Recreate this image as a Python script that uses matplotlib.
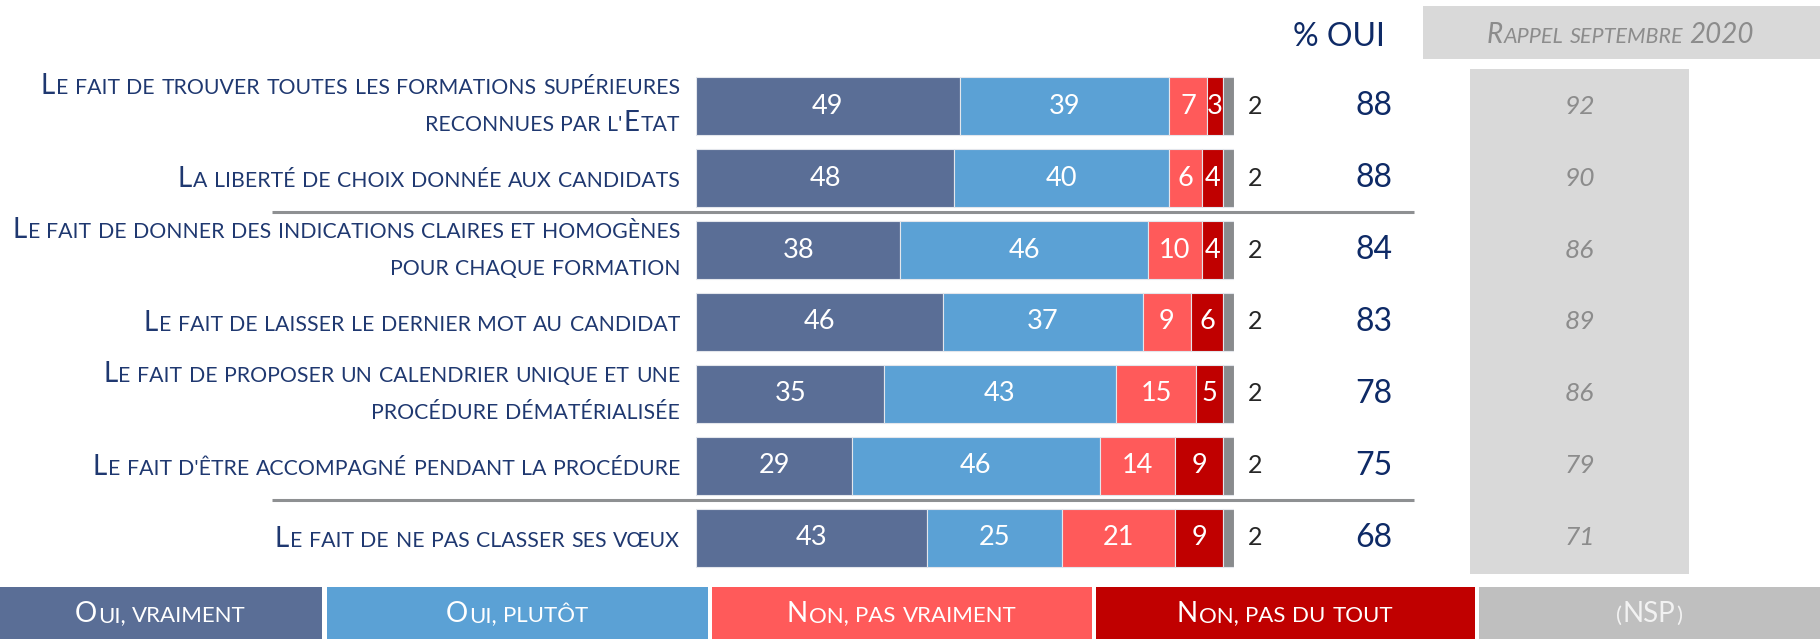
import matplotlib
matplotlib.use('Agg')
import numpy as np
from matplotlib import pyplot as plt
from matplotlib.patches import Rectangle

plt.rcParams['font.family'] = ['Lato', 'DejaVu Sans']

# data
labels = [
    "Le fait de trouver toutes les formations supérieures\nreconnues par l'Etat",
    "La liberté de choix donnée aux candidats",
    "Le fait de donner des indications claires et homogènes\npour chaque formation",
    "Le fait de laisser le dernier mot au candidat",
    "Le fait de proposer un calendrier unique et une\nprocédure dématérialisée",
    "Le fait d'être accompagné pendant la procédure",
    "Le fait de ne pas classer ses vœux",
]
oui_vraiment = [49, 48, 38, 46, 35, 29, 43]
oui_plutot = [39, 40, 46, 37, 43, 46, 25]
non_pas_vraiment = [7, 6, 10, 9, 15, 14, 21]
non_pas_du_tout = [3, 4, 4, 6, 5, 9, 9]
nsp = [2, 2, 2, 2, 2, 2, 2]
pct_oui = [88, 88, 84, 83, 78, 75, 68]
rappel_2020 = [92, 90, 86, 89, 86, 79, 71]
legend_labels = ["Oui, vraiment", "Oui, plutôt", "Non, pas vraiment", "Non, pas du tout", "(NSP)"]

colors = ['#5A6E96', '#5BA1D5', '#FF5A5A', '#C00000', '#898B8D']
legend_colors = ['#5A6E96', '#5BA1D5', '#FF5A5A', '#C00000', '#BFBFBF']
NAVY = '#1F3870'
GREY_TXT = '#8C8C8C'

W, H = 1820, 639
fig = plt.figure(figsize=(W / 100, H / 100), dpi=100)
ax_o = fig.add_axes([0, 0, 1, 1])
ax_o.set_xlim(0, W)
ax_o.set_ylim(H, 0)
ax_o.axis('off')

row0, pitch = 106.15, 71.95
ax_b = fig.add_axes([696 / W, 0, 538 / W, 1])
ax_b.set_xlim(0, 100)
ax_b.set_ylim((H - row0) / pitch, -row0 / pitch)
ax_b.axis('off')
ax_b.patch.set_visible(False)

renderer = fig.canvas.get_renderer()


def smallcaps(x, y, text, big, small, color, ha='right', style='normal', zorder=5):
    # split into runs of big letters / small letters / spaces
    runs = []
    for ch in text:
        if ch == ' ':
            kind = 'sp'
        elif ch.isupper() or ch.isdigit():
            kind = 'big'
        else:
            kind = 'small'
        if runs and runs[-1][0] == kind:
            runs[-1][1] += ch
        else:
            runs.append([kind, ch])
    t1 = ax_o.text(0, 0, 'aa', fontsize=small, style=style)
    t2 = ax_o.text(0, 0, 'a a', fontsize=small, style=style)
    sp = t2.get_window_extent(renderer).width - t1.get_window_extent(renderer).width
    t1.remove()
    t2.remove()
    items = []
    total = 0
    for kind, s in runs:
        if kind == 'sp':
            items.append((None, sp * len(s)))
            total += sp * len(s)
        else:
            t = ax_o.text(0, y, s.upper(), fontsize=big if kind == 'big' else small,
                          color=color, style=style, ha='left', va='baseline', zorder=zorder)
            w = t.get_window_extent(renderer).width + 1
            items.append((t, w))
            total += w
    if ha == 'right':
        cx = x - total
    elif ha == 'center':
        cx = x - total / 2
    else:
        cx = x
    for t, w in items:
        if t is not None:
            t.set_x(cx)
        cx += w


# stacked bars
ypos = np.arange(len(labels))
series = [oui_vraiment, oui_plutot, non_pas_vraiment, non_pas_du_tout, nsp]
left = np.zeros(len(labels))
for k, vals in enumerate(series):
    vals = np.array(vals)
    ax_b.barh(ypos, vals, left=left, height=0.8, color=colors[k],
              edgecolor='#E3E6EC', linewidth=0.8)
    if k < 4:
        for i, v in enumerate(vals):
            ax_b.text(left[i] + v / 2, ypos[i], str(v), ha='center', va='center',
                      color='white', fontsize=19.5)
    left += vals

# row pixel centres through the bar axis scale
row_px = [ax_o.transData.inverted().transform(ax_b.transData.transform((0, i)))[1] for i in ypos]

for i, lab in enumerate(labels):
    lines = lab.split('\n')
    yc = row_px[i]
    if len(lines) == 1:
        offs = [0]
    else:
        offs = [-21, 16]
    for line, off in zip(lines, offs):
        smallcaps(681, yc + off + 9, line, 20, 15.3, NAVY)
    ax_o.text(1255, yc, str(nsp[i]), ha='center', va='center', fontsize=18, color='#262626')
    ax_o.text(1374, yc, str(pct_oui[i]), ha='center', va='center', fontsize=23, color='#0E2A66')
    ax_o.text(1579.5, yc, str(rappel_2020[i]), ha='center', va='center', fontsize=19,
              color=GREY_TXT, style='italic', zorder=5)

# header
ax_o.text(1339, 37, '% OUI', ha='center', va='center', fontsize=23, color='#0E2A66')
ax_o.add_patch(Rectangle((1423, 6), 397, 53, color='#D9D9D9', lw=0, zorder=1))
smallcaps(1621, 43, 'Rappel septembre 2020', 20, 15.5, GREY_TXT, ha='center', style='italic')
ax_o.add_patch(Rectangle((1470, 69), 219, 505, color='#D9D9D9', lw=0, zorder=1))

# separators
for yl in (212, 500):
    ax_o.plot([272, 1414], [yl, yl], color='#8E9092', lw=2.2, solid_capstyle='butt')

# legend band
edges = [(0, 322), (327, 708), (712, 1092), (1096, 1475), (1479, 1820)]
for (x0, x1), lab, c in zip(edges, legend_labels, legend_colors):
    ax_o.add_patch(Rectangle((x0, 587), x1 - x0, 52, color=c, lw=0, zorder=1))
    tc = '#F2F2F2' if lab == '(NSP)' else 'white'
    smallcaps((x0 + x1) / 2, 622, lab, 20, 16, tc, ha='center')

fig.savefig('out.png', dpi=100)
